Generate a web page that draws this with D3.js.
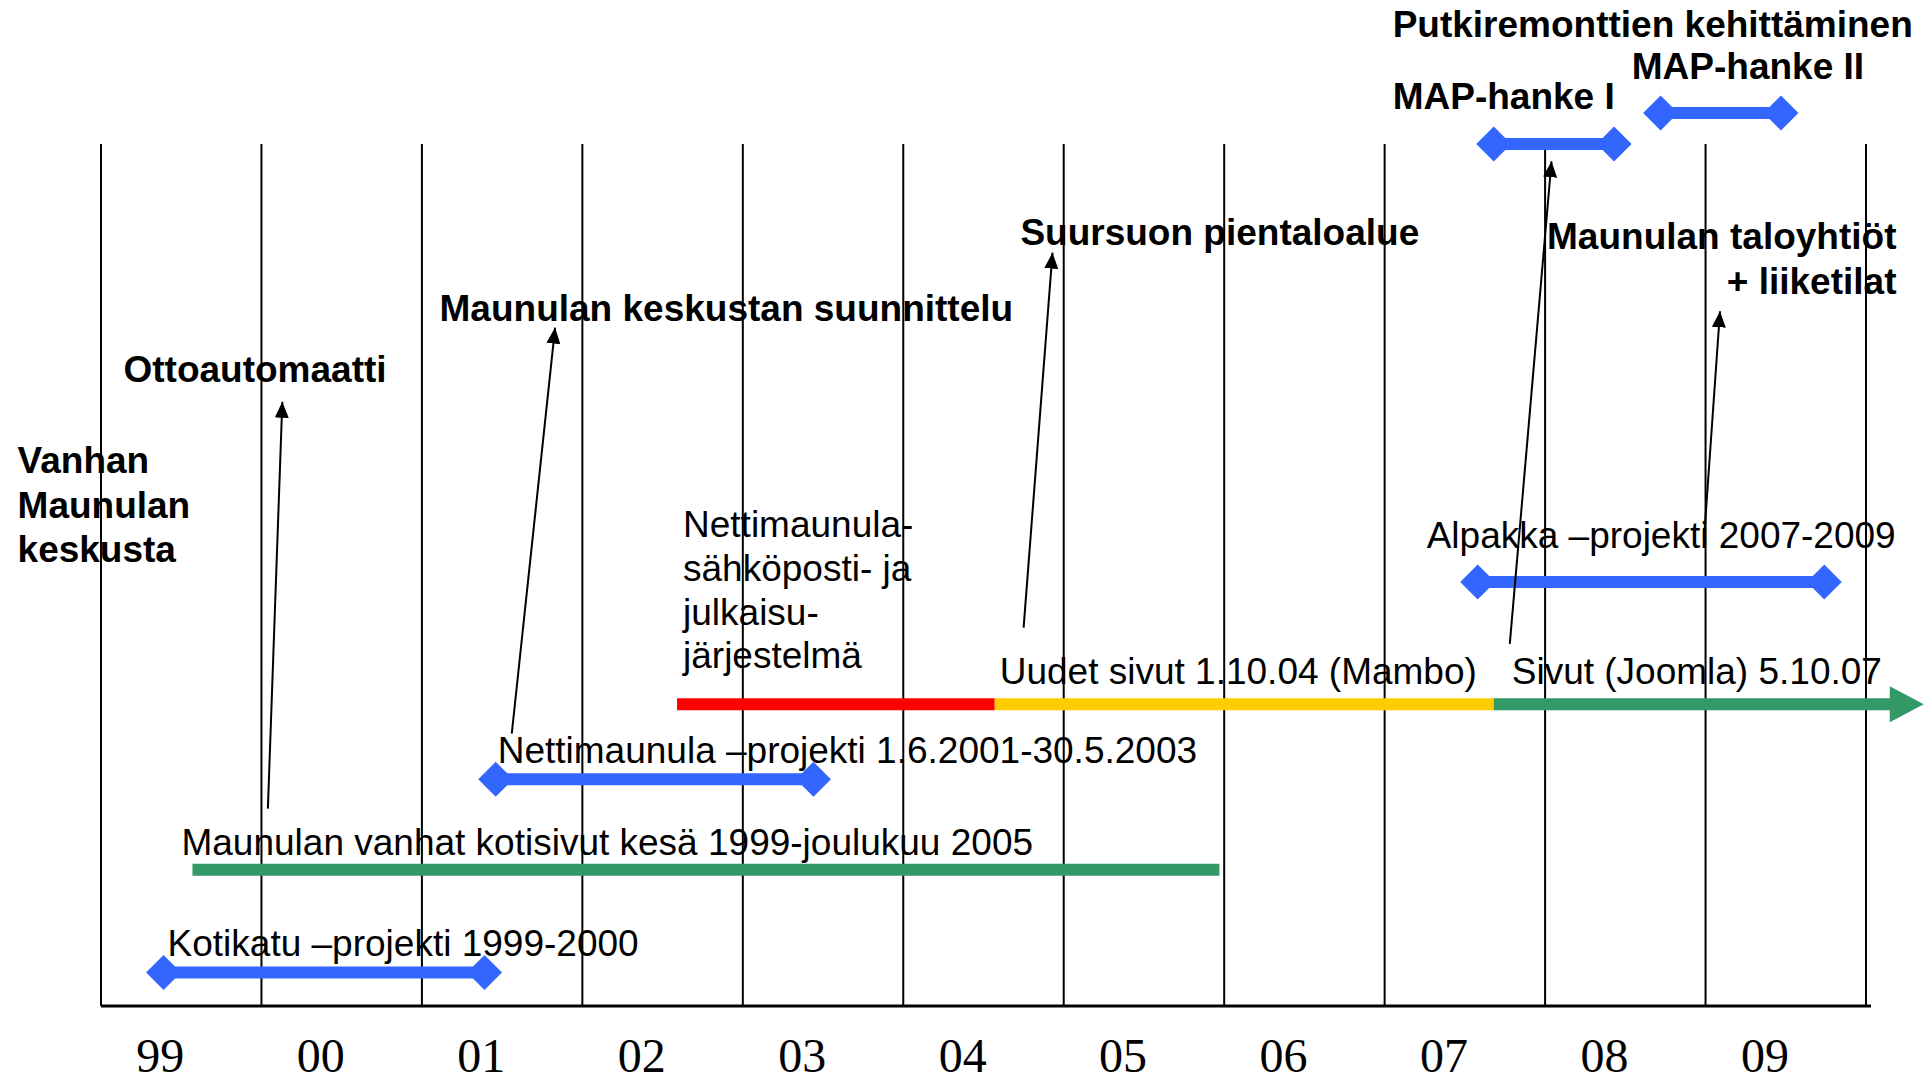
<!DOCTYPE html>
<html>
<head>
<meta charset="utf-8">
<script src="https://cdn.jsdelivr.net/npm/d3@7"></script>
<style>
  body { margin: 0; background: #fff; }
  svg { display: block; font-family: "Liberation Sans", Arial, sans-serif; }
</style>
</head>
<body>
<svg id="chart" width="1930" height="1083"></svg>
<script>
// axis years
const firstYear = 1999;
const lastYear = 2010;
const yearLabels = ['99', '00', '01', '02', '03', '04', '05', '06', '07', '08', '09'];

// blue projects with a diamond at each end (years, level 0-100 above the axis)
const projectNames = ['Kotikatu –projekti 1999-2000', 'Nettimaunula –projekti 1.6.2001-30.5.2003', 'Alpakka –projekti 2007-2009', '', ''];
const projectStart = [1999.39, 2001.46, 2007.58, 2007.68, 2008.72];
const projectEnd = [2001.39, 2003.44, 2009.74, 2008.43, 2009.47];
const projectLevel = [3.9, 26.3, 49.2, 100, 103.6];

// old home pages
const oldSiteName = 'Maunulan vanhat kotisivut kesä 1999-joulukuu 2005';
const oldSiteStart = 1999.57;
const oldSiteEnd = 2005.97;
const oldSiteLevel = 15.8;

// web system phases on one line, the last one continues as an arrow
const phaseNames = [['Nettimaunula-', 'sähköposti- ja', 'julkaisu-', 'järjestelmä'], ['Uudet sivut 1.10.04 (Mambo)'], ['Sivut (Joomla) 5.10.07']];
const phaseStart = [2002.59, 2004.57, 2007.68];
const phaseEnd = [2004.57, 2007.68, 2010.36];
const phaseLevel = 35.0;

// bold notes: text lines, anchor year, level
const noteTexts = [
  ['Vanhan', 'Maunulan', 'keskusta'],
  ['Ottoautomaatti'],
  ['Maunulan keskustan suunnittelu'],
  ['Suursuon pientaloalue'],
  ['Putkiremonttien kehittäminen'],
  ['MAP-hanke II'],
  ['MAP-hanke I'],
  ['Maunulan taloyhtiöt', '+ liiketilat']
];
const noteYear = [1998.48, 1999.14, 2001.11, 2004.73, 2007.05, 2008.54, 2007.05, 2010.19];
const noteLevel = [61.8, 72.4, 79.5, 88.3, 112.4, 107.5, 104.1, 87.8];

// pointer arrows: tail [year, level] -> head [year, level]
const arrowFrom = [[2000.04, 22.9], [2001.56, 31.6], [2004.75, 43.9], [2007.78, 42.0], [2008.99, 54.1]];
const arrowTo = [[2000.13, 70.1], [2001.83, 78.7], [2004.93, 87.4], [2008.04, 98.0], [2009.09, 80.6]];

const svg = d3.select('#chart');
const width = 1930;

const x = d3.scaleLinear().domain([firstYear, lastYear]).range([101, 1866]);
const y = d3.scaleLinear().domain([0, 100]).range([1006, 144]);

const blue = '#3366ff';
const phaseColors = ['#ff0000', '#ffcc00', '#339966'];

svg.append('rect').attr('width', width).attr('height', 1083).attr('fill', '#fff');

const defs = svg.append('defs');
defs.append('marker')
  .attr('id', 'head')
  .attr('viewBox', '0 0 16 14')
  .attr('refX', 16).attr('refY', 7)
  .attr('markerWidth', 16).attr('markerHeight', 14)
  .attr('markerUnits', 'userSpaceOnUse')
  .attr('orient', 'auto')
  .append('path').attr('d', 'M0,0 L16,7 L0,14 Z').attr('fill', '#000');

// grid lines between years
const grid = svg.append('g');
grid.selectAll('line')
  .data(d3.range(firstYear, lastYear + 1))
  .join('line')
  .attr('x1', d => x(d)).attr('x2', d => x(d))
  .attr('y1', y(100)).attr('y2', y(0))
  .attr('stroke', '#000').attr('stroke-width', 2);

// bottom axis line
svg.append('line')
  .attr('x1', x(firstYear)).attr('x2', x(lastYear) + 5)
  .attr('y1', y(0)).attr('y2', y(0))
  .attr('stroke', '#000').attr('stroke-width', 3);

// year labels
svg.append('g').selectAll('text')
  .data(yearLabels)
  .join('text')
  .attr('x', (d, i) => x(firstYear + i + 0.37))
  .attr('y', 1072)
  .attr('text-anchor', 'middle')
  .attr('font-family', '"Liberation Serif", "Times New Roman", serif')
  .attr('font-size', 48)
  .text(d => d);

// old site bar
svg.append('line')
  .attr('x1', x(oldSiteStart)).attr('x2', x(oldSiteEnd))
  .attr('y1', y(oldSiteLevel)).attr('y2', y(oldSiteLevel))
  .attr('stroke', '#339966').attr('stroke-width', 12);
svg.append('text')
  .attr('x', x(oldSiteStart) - 11).attr('y', y(oldSiteLevel) - 15)
  .attr('font-size', 37)
  .text(oldSiteName);

// system phases
const phases = svg.append('g');
phaseNames.forEach((lines, i) => {
  const last = i === phaseNames.length - 1;
  const x0 = x(phaseStart[i]);
  const x1 = last ? x(phaseEnd[i]) - 30 : x(phaseEnd[i]);
  phases.append('line')
    .attr('x1', x0).attr('x2', x1)
    .attr('y1', y(phaseLevel)).attr('y2', y(phaseLevel))
    .attr('stroke', phaseColors[i]).attr('stroke-width', 12);
  if (last) {
    const tip = x(phaseEnd[i]);
    const yy = y(phaseLevel);
    phases.append('path')
      .attr('d', `M${tip - 34},${yy - 18} L${tip},${yy} L${tip - 34},${yy + 18} Z`)
      .attr('fill', phaseColors[i]);
  }
});
const phaseDx = [6, 5, 18];
const phaseBase = [-36, -20, -20];
phaseNames.forEach((lines, i) => {
  const t = phases.append('text')
    .attr('x', x(phaseStart[i]) + phaseDx[i])
    .attr('y', y(phaseLevel) + phaseBase[i] - (lines.length - 1) * 43.7)
    .attr('font-size', 37);
  lines.forEach((l, j) => {
    t.append('tspan').attr('x', x(phaseStart[i]) + phaseDx[i]).attr('dy', j ? 43.7 : 0).text(l);
  });
});

// blue projects
const diamond = d3.symbol(d3.symbolSquare, 612);
const proj = svg.append('g');
projectNames.forEach((name, i) => {
  const yy = y(projectLevel[i]);
  proj.append('line')
    .attr('x1', x(projectStart[i])).attr('x2', x(projectEnd[i]))
    .attr('y1', yy).attr('y2', yy)
    .attr('stroke', blue).attr('stroke-width', 12);
  [projectStart[i], projectEnd[i]].forEach(v => {
    proj.append('path')
      .attr('d', diamond())
      .attr('transform', `translate(${x(v)},${yy}) rotate(45)`)
      .attr('fill', blue);
  });
});
const projDx = [4, 2, -51];
const projDy = [-16, -16, -34];
projectNames.forEach((name, i) => {
  if (!name) return;
  proj.append('text')
    .attr('x', x(projectStart[i]) + projDx[i])
    .attr('y', y(projectLevel[i]) + projDy[i])
    .attr('font-size', 37)
    .text(name);
});

// pointer arrows
svg.append('g').selectAll('line')
  .data(arrowFrom)
  .join('line')
  .attr('x1', d => x(d[0])).attr('y1', d => y(d[1]))
  .attr('x2', (d, i) => x(arrowTo[i][0])).attr('y2', (d, i) => y(arrowTo[i][1]))
  .attr('stroke', '#000').attr('stroke-width', 2)
  .attr('marker-end', 'url(#head)');

// bold notes
const notes = svg.append('g').attr('font-weight', 'bold').attr('font-size', 37);
noteTexts.forEach((lines, i) => {
  const anchor = i === noteTexts.length - 1 ? 'end' : 'start';
  const t = notes.append('text')
    .attr('x', x(noteYear[i]))
    .attr('y', y(noteLevel[i]))
    .attr('text-anchor', anchor);
  lines.forEach((l, j) => {
    t.append('tspan').attr('x', x(noteYear[i])).attr('dy', j ? 44.5 : 0).text(l);
  });
});
</script>
</body>
</html>
